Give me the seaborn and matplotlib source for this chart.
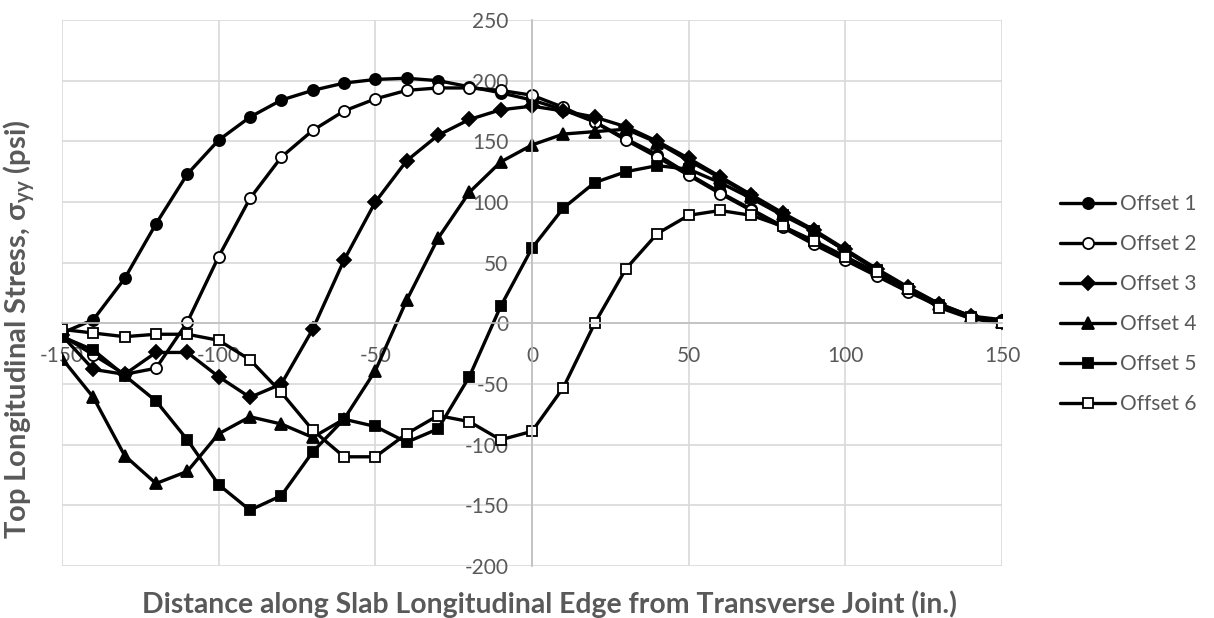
import matplotlib
matplotlib.use("Agg")
import matplotlib.pyplot as plt
import pandas as pd
import seaborn as sns

# Distance along slab edge (in.)
distance = [-150, -140, -130, -120, -110, -100, -90, -80, -70, -60, -50,
            -40, -30, -20, -10, 0, 10, 20, 30, 40, 50,
            60, 70, 80, 90, 100, 110, 120, 130, 140, 150]

# Top longitudinal stress (psi) for each load offset
offset_1 = [-8, 3, 37, 82, 123, 151, 170, 184, 192, 198, 201,
            202, 200, 195, 190, 184, 176, 166, 152, 139, 123,
            108, 94, 80, 66, 53, 40, 27, 15, 6, 3]
offset_2 = [-10, -26, -42, -37, 1, 55, 103, 137, 159, 175, 185,
            192, 194, 194, 192, 188, 178, 166, 151, 137, 122,
            107, 93, 79, 65, 52, 39, 26, 14, 5, 2]
offset_3 = [-10, -38, -42, -24, -24, -44, -61, -50, -5, 52, 100,
            134, 155, 168, 176, 179, 175, 170, 162, 150, 136,
            121, 106, 91, 77, 61, 45, 30, 16, 6, 1]
offset_4 = [-29, -61, -109, -132, -122, -91, -77, -83, -94, -79, -39,
            19, 70, 108, 133, 147, 156, 158, 160, 149, 134,
            120, 105, 90, 76, 60, 44, 29, 16, 6, 1]
offset_5 = [-11, -22, -43, -64, -96, -133, -154, -142, -106, -79, -85,
            -98, -87, -44, 14, 62, 95, 116, 125, 130, 127,
            116, 103, 89, 76, 60, 44, 28, 15, 5, 0]
offset_6 = [-5, -8, -11, -9, -9, -14, -30, -57, -88, -110, -110,
            -91, -76, -81, -96, -89, -53, 0, 45, 74, 89,
            93, 89, 80, 68, 55, 42, 28, 13, 4, 0]

series_names = ["Offset 1", "Offset 2", "Offset 3", "Offset 4", "Offset 5", "Offset 6"]
series_values = [offset_1, offset_2, offset_3, offset_4, offset_5, offset_6]

x_ticks = [-150, -100, -50, 0, 50, 100, 150]
y_ticks = [-200, -150, -100, -50, 0, 50, 100, 150, 200, 250]

frames = []
for name, vals in zip(series_names, series_values):
    frames.append(pd.DataFrame({"Distance": distance, "Stress": vals, "Series": name}))
data = pd.concat(frames, ignore_index=True)

sns.set_theme(style="white")
plt.rcParams["font.family"] = ["Lato", "DejaVu Sans"]
plt.rcParams["mathtext.fontset"] = "custom"
plt.rcParams["mathtext.rm"] = "Lato"
plt.rcParams["mathtext.bf"] = "Lato:bold"
plt.rcParams["axes.unicode_minus"] = False

TEXT = "#595959"
GRID = "#d9d9d9"

marker_styles = {
    "Offset 1": dict(marker="o", markersize=8, markerfacecolor="black"),
    "Offset 2": dict(marker="o", markersize=8, markerfacecolor="white"),
    "Offset 3": dict(marker="D", markersize=7, markerfacecolor="black"),
    "Offset 4": dict(marker="^", markersize=8.5, markerfacecolor="black"),
    "Offset 5": dict(marker="s", markersize=7.5, markerfacecolor="black"),
    "Offset 6": dict(marker="s", markersize=7.5, markerfacecolor="white"),
}

fig = plt.figure(figsize=(12.14, 6.18), dpi=100)
ax = fig.add_axes([62 / 1214, 1 - 566 / 618, 940 / 1214, 546 / 618])

for name in series_names:
    sub = data[data["Series"] == name]
    sns.lineplot(data=sub, x="Distance", y="Stress", ax=ax, color="black",
                 linewidth=2.4, markeredgecolor="black", markeredgewidth=1.3,
                 label=name, **marker_styles[name])

ax.set_xlim(-150, 150)
ax.set_ylim(-200, 250)
ax.set_xticks(x_ticks)
ax.set_yticks(y_ticks)
ax.grid(True, color=GRID, linewidth=1.2)
ax.set_axisbelow(True)

for side in ["top", "right"]:
    ax.spines[side].set_visible(False)
ax.spines["left"].set_position(("data", 0))
ax.spines["bottom"].set_position(("data", 0))
for side in ["left", "bottom"]:
    ax.spines[side].set_color("#bfbfbf")
    ax.spines[side].set_linewidth(1.2)

ax.tick_params(axis="both", length=0, labelsize=15, labelcolor=TEXT)
ax.tick_params(axis="x", pad=16)
ax.tick_params(axis="y", pad=17)

ax.set_xlabel("Distance along Slab Longitudinal Edge from Transverse Joint (in.)",
              fontsize=20.4, fontweight="bold", color=TEXT)
ax.set_ylabel(r"Top Longitudinal Stress, σ$_{\mathbf{yy}}$ (psi)",
              fontsize=21, fontweight="bold", color=TEXT)
ax.xaxis.set_label_coords(0.519, -0.045, transform=ax.transAxes)
ax.yaxis.set_label_coords(-0.026, 0.434, transform=ax.transAxes)

leg = ax.legend(loc="center left", bbox_to_anchor=(1060 / 1214, 0.508),
                bbox_transform=fig.transFigure, frameon=False, fontsize=15,
                labelcolor=TEXT, handlelength=2.65, handletextpad=0.25,
                labelspacing=0.96, borderaxespad=0, borderpad=0)

fig.savefig("out.png", dpi=100)
